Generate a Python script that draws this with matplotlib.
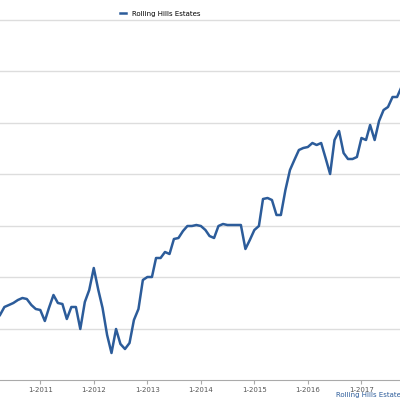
import matplotlib
matplotlib.use("Agg")
import matplotlib.pyplot as plt
import pandas as pd
import numpy as np

dates = pd.date_range("2010-04-01", periods=91, freq="MS")
pix = [315,307,305,303,300,298,299,305,309,310,321,308,295,303,304,319,307,307,329,302,
       290,268,290,308,335,353,329,344,349,343,320,309,280,277,277,258,258,252,254,239,
       238,231,226,226,225,226,230,236,238,226,224,225,225,225,225,249,240,230,226,199,
       198,200,215,215,190,170,160,150,148,147,143,145,143,158,174,140,131,153,159,159,
       157,138,140,125,140,121,110,107,97,97,87]
values = [380 - p for p in pix]
tick_years = [2011,2012,2013,2014,2015,2016,2017]
tick_labels = [f"1-{y}" for y in tick_years]
color = "#2c5c9a"

fig = plt.figure(figsize=(4,4), dpi=100)
ax = fig.add_axes([0, 0.05, 1, 0.95])
ax.plot(dates, values, color=color, lw=1.8)
ax.set_ylim(0, 380)
ax.set_xlim(dates[0], dates[0] + pd.Timedelta(days=int(400/4.46*30.44)))
ax.set_yticks(np.arange(0, 380, 51.5)[1:])
ax.set_yticklabels([])
ax.tick_params(axis="y", length=0)
ax.grid(axis="y", color="#dddddd", lw=1)
ax.set_xticks([pd.Timestamp(f"{y}-01-01") for y in tick_years])
ax.set_xticklabels(tick_labels, fontsize=5, color="#555555")
ax.tick_params(axis="x", length=3, color="#aaaaaa", pad=2)
for s in ["top", "right", "left"]:
    ax.spines[s].set_visible(False)
ax.spines["bottom"].set_color("#aaaaaa")
ax.legend(["Rolling Hills Estates"], loc="upper center", bbox_to_anchor=(0.4, 0.985),
          frameon=False, fontsize=5, handlelength=1, borderaxespad=0.3)
fig.text(0.84, 0.008, "Rolling Hills Estates", fontsize=5, color=color)
fig.savefig("out.png")
